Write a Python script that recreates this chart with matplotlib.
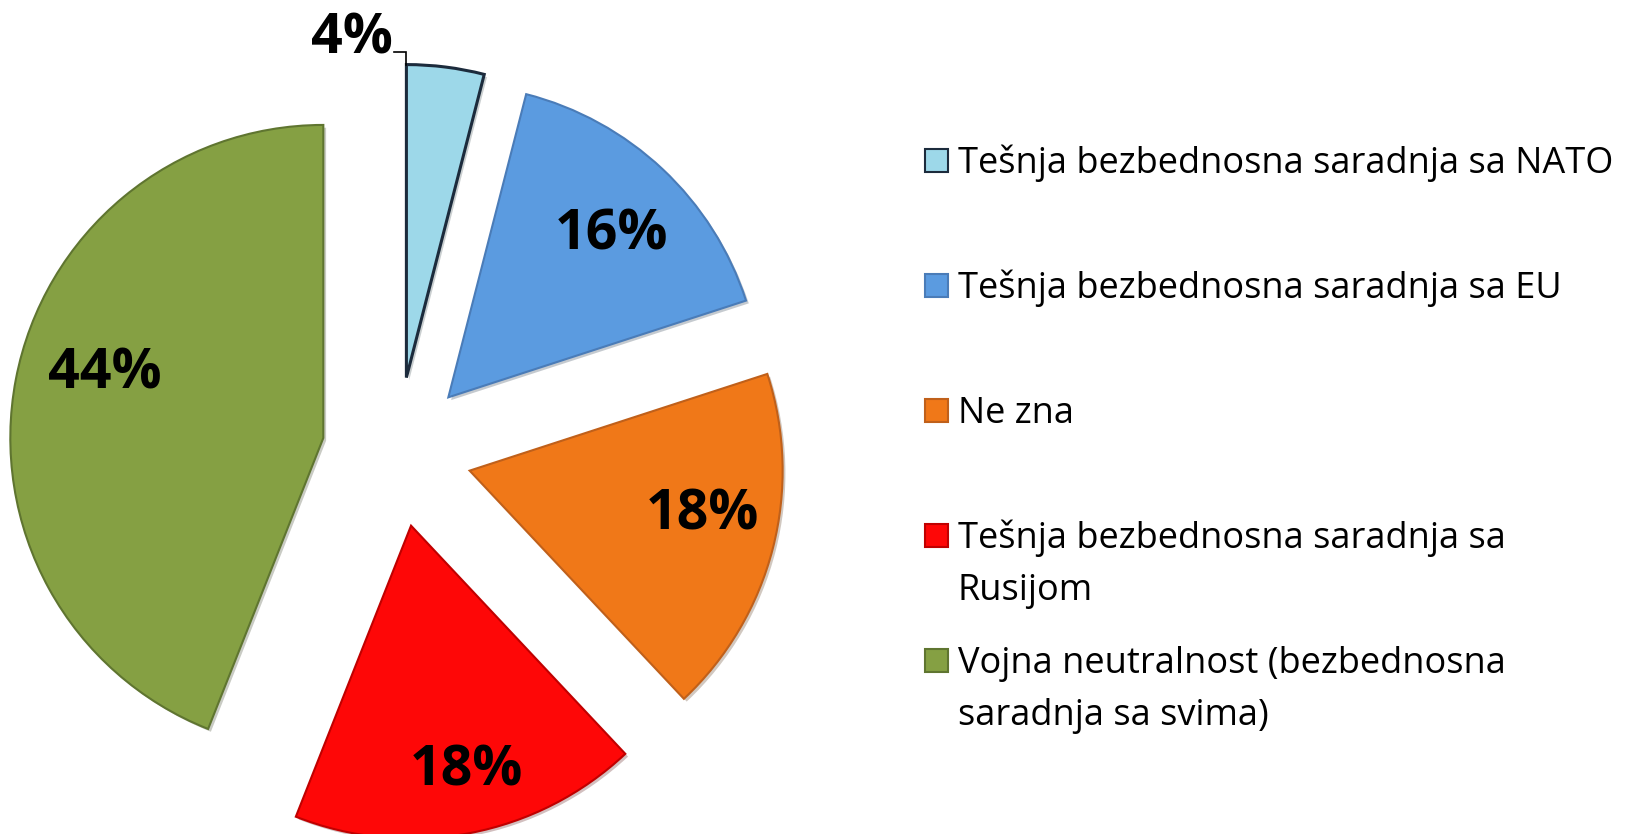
import matplotlib
matplotlib.use("Agg")
import matplotlib.pyplot as plt
import matplotlib.patheffects as pe
from matplotlib.patches import Rectangle

labels = [
    "Tešnja bezbednosna saradnja sa NATO",
    "Tešnja bezbednosna saradnja sa EU",
    "Ne zna",
    "Tešnja bezbednosna saradnja sa\nRusijom",
    "Vojna neutralnost (bezbednosna\nsaradnja sa svima)",
]
shares = [4, 16, 18, 18, 44]
colors = ["#9dd8e9", "#5b9be0", "#f07818", "#fe0707", "#85a043"]
edges = ["#1c2b3c", "#4a7cb8", "#c0601a", "#c00000", "#5f7530"]
# label nudges in pixels (x right, y down) to sit where the original has them
nudge = [(0, 0), (2, 9), (5, -14), (11, 15), (12, -20)]

W, H = 1633, 834
plt.rcParams["font.family"] = ["Open Sans", "DejaVu Sans"]

fig = plt.figure(figsize=(W / 100, H / 100), dpi=100, facecolor="white")
ax = fig.add_axes([0, 0, 1, 1])

# pie in pixel units, y measured from the bottom
cx, cy, r, gap = 397, H - 452, 313, 75
shadow = [pe.SimplePatchShadow(offset=(2, -2), alpha=0.25), pe.Normal()]
wedges, _, autotexts = ax.pie(
    shares, colors=colors, startangle=90, counterclock=False,
    radius=r, center=(cx, cy), explode=[gap] * len(shares),
    autopct=lambda p: "%d%%" % round(p), pctdistance=0.75,
    wedgeprops=dict(linewidth=1.5, path_effects=shadow),
    textprops=dict(fontsize=40, fontweight="bold", color="black"),
)
for w, ec in zip(wedges, edges):
    w.set_edgecolor(ec)
wedges[0].set_linewidth(2.2)

for t, (dx, dy) in zip(autotexts[1:], nudge[1:]):
    x, y = t.get_position()
    t.set_position((x + dx, y - dy))

# small slice: label sits outside with an elbow leader line
w0 = wedges[0]
corner_x, corner_y = w0.center[0], w0.center[1] + w0.r
line_y = corner_y + 13
ax.plot([corner_x - 12, corner_x, corner_x], [line_y, line_y, corner_y],
        color="black", lw=1.2, solid_joinstyle="miter")
autotexts[0].set_position((corner_x - 14, line_y - 2))
autotexts[0].set_ha("right")
autotexts[0].set_va("baseline")

ax.set_xlim(0, W)
ax.set_ylim(0, H)
ax.set_aspect("equal")
ax.axis("off")

# legend, drawn by hand so the marker lines up with the first text line
lx, base0, step, lstep = 958, 173, 125, 52
for i, (lab, c, ec) in enumerate(zip(labels, colors, edges)):
    b = base0 + i * step
    ax.add_patch(Rectangle((925, H - b + 1), 23, 23, facecolor=c,
                           edgecolor=ec, lw=1.5))
    for k, line in enumerate(lab.split("\n")):
        ax.text(lx, H - (b + k * lstep), line, fontsize=26,
                ha="left", va="baseline", color="black")

fig.savefig("out.png", dpi=100)
